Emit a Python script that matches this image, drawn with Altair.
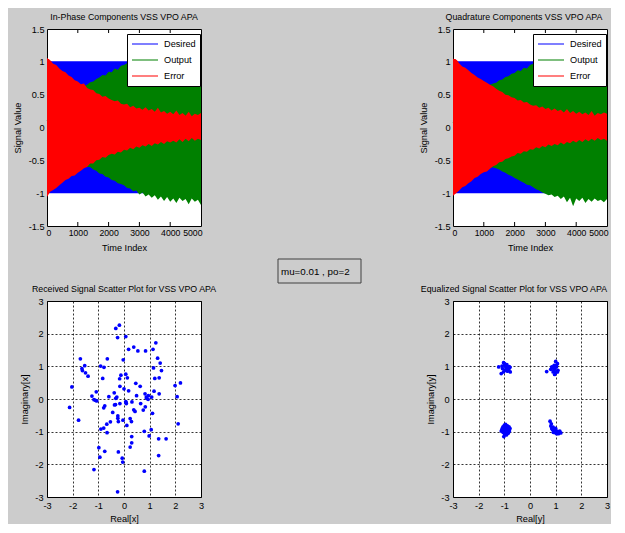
import altair as alt
import pandas as pd

FONT = "Liberation Sans Narrow, Arial Narrow, Liberation Sans, Arial, sans-serif"
BG = "#cccccc"
FS = 9.2
TFS = 8.8

# ---------------- data ----------------
time_index = [0, 100, 200, 300, 400, 500, 600, 700, 800, 900,
              1000, 1100, 1200, 1300, 1400, 1500, 1600, 1700, 1800, 1900,
              2000, 2100, 2200, 2300, 2400, 2500, 2600, 2700, 2800, 2900,
              3000, 3100, 3200, 3300, 3400, 3500, 3600, 3700, 3800, 3900,
              4000, 4100, 4200, 4300, 4400, 4500, 4600, 4700, 4800, 4900, 5000]

series_names = ["Desired", "Output", "Error"]
series_colors = ["#0000ff", "#008000", "#ff0000"]

desired_t = [0, 5000]
desired_hi = [1.0, 1.0]
desired_lo = [-1.0, -1.0]

# In-phase envelopes
err_hi_I = [1.05, 1.02, 0.97, 0.95, 0.90, 0.86, 0.84, 0.79, 0.77, 0.72, 0.70, 0.66, 0.67, 0.60, 0.58, 0.57, 0.52,
            0.51, 0.47, 0.48, 0.44, 0.42, 0.40, 0.41, 0.36, 0.35, 0.36, 0.31, 0.33, 0.29, 0.30, 0.27, 0.31, 0.26,
            0.28, 0.24, 0.30, 0.23, 0.25, 0.21, 0.24, 0.20, 0.26, 0.19, 0.22, 0.18, 0.24, 0.17, 0.21, 0.19, 0.22]
err_lo_I = [-1.06, -0.98, -0.95, -0.92, -0.88, -0.84, -0.80, -0.78, -0.74, -0.73, -0.69, -0.66, -0.62, -0.60, -0.55,
            -0.55, -0.50, -0.49, -0.45, -0.46, -0.42, -0.40, -0.41, -0.37, -0.38, -0.34, -0.35, -0.31, -0.33, -0.29,
            -0.31, -0.27, -0.29, -0.25, -0.28, -0.24, -0.26, -0.22, -0.25, -0.21, -0.23, -0.20, -0.23, -0.18, -0.22,
            -0.17, -0.21, -0.16, -0.20, -0.17, -0.19]
out_hi_I = [0.10, 0.16, 0.23, 0.29, 0.35, 0.40, 0.45, 0.49, 0.53, 0.57, 0.60, 0.62, 0.63, 0.65, 0.69, 0.70, 0.74,
            0.76, 0.80, 0.79, 0.85, 0.84, 0.90, 0.88, 0.94, 0.95, 0.98, 1.00, 0.99, 1.03, 1.01, 1.05, 1.02, 1.06,
            1.04, 1.08, 1.05, 1.09, 1.06, 1.10, 1.08, 1.11, 1.07, 1.12, 1.09, 1.13, 1.10, 1.14, 1.10, 1.15, 1.12]
out_lo_I = [-0.10, -0.16, -0.23, -0.29, -0.35, -0.40, -0.45, -0.49, -0.52, -0.54, -0.56, -0.58, -0.60, -0.60, -0.60,
            -0.64, -0.66, -0.70, -0.71, -0.75, -0.76, -0.80, -0.81, -0.85, -0.86, -0.88, -0.92, -0.93, -0.97, -0.96,
            -1.02, -0.99, -1.05, -1.02, -1.07, -1.03, -1.10, -1.05, -1.12, -1.06, -1.13, -1.08, -1.15, -1.07, -1.12,
            -1.09, -1.17, -1.08, -1.13, -1.10, -1.18]

# Quadrature envelopes
err_hi_Q = [1.04, 1.03, 0.98, 0.93, 0.91, 0.87, 0.83, 0.80, 0.76, 0.74, 0.71, 0.68, 0.65, 0.63, 0.59, 0.56, 0.54,
            0.50, 0.49, 0.46, 0.45, 0.41, 0.42, 0.38, 0.39, 0.35, 0.33, 0.34, 0.30, 0.32, 0.28, 0.30, 0.26, 0.29,
            0.25, 0.27, 0.23, 0.28, 0.22, 0.25, 0.21, 0.24, 0.20, 0.23, 0.19, 0.25, 0.18, 0.22, 0.20, 0.23, 0.21]
err_lo_Q = [-1.04, -1.00, -0.96, -0.91, -0.89, -0.85, -0.82, -0.77, -0.75, -0.71, -0.68, -0.67, -0.63, -0.59, -0.57,
            -0.53, -0.52, -0.48, -0.47, -0.44, -0.43, -0.39, -0.40, -0.36, -0.37, -0.33, -0.34, -0.30, -0.32, -0.28,
            -0.30, -0.26, -0.28, -0.25, -0.27, -0.23, -0.26, -0.22, -0.24, -0.20, -0.23, -0.19, -0.22, -0.18, -0.21,
            -0.17, -0.20, -0.16, -0.19, -0.17, -0.20]
out_hi_Q = [0.08, 0.15, 0.22, 0.28, 0.34, 0.40, 0.45, 0.50, 0.54, 0.58, 0.61, 0.63, 0.65, 0.67, 0.68, 0.72, 0.73,
            0.77, 0.78, 0.82, 0.83, 0.87, 0.86, 0.91, 0.90, 0.95, 0.97, 1.00, 0.98, 1.02, 1.00, 1.04, 1.01, 1.06,
            1.03, 1.07, 1.04, 1.08, 1.05, 1.09, 1.07, 1.10, 1.06, 1.11, 1.08, 1.12, 1.09, 1.13, 1.10, 1.14, 1.12]
out_lo_Q = [-0.08, -0.15, -0.22, -0.28, -0.34, -0.40, -0.45, -0.50, -0.53, -0.56, -0.58, -0.59, -0.60, -0.61, -0.62,
            -0.64, -0.67, -0.69, -0.72, -0.74, -0.77, -0.79, -0.82, -0.84, -0.87, -0.88, -0.91, -0.94, -0.96, -0.99,
            -1.01, -1.03, -1.02, -1.06, -1.04, -1.09, -1.05, -1.14, -1.07, -1.20, -1.08, -1.12, -1.07, -1.15, -1.09,
            -1.13, -1.08, -1.12, -1.10, -1.14, -1.09]

# Received signal (before equalization)
recv_re = [-0.32, -0.18, -0.25, 0.07, 0.18, 0.38, 0.54, 0.84, 1.13, 1.24,
           1.31, 1.41, 1.46, 1.15, 1.20, 1.37, -0.03, -0.65, -0.91, -0.78,
           -0.83, -1.70, -1.64, -1.53, -1.62, -1.50, -1.40, -2.03, -2.12, -1.77,
           -1.25, -1.08, -1.17, -1.11, -1.06, -0.59, -0.38, -0.32, -0.16, -0.12,
           -0.17, 0.07, 0.13, 0.00, 0.18, 0.46, 0.63, 0.49, 0.82, 0.87,
           0.94, 1.08, 1.17, 1.37, 1.99, 2.20, 2.07, 2.11, 1.11, 1.35,
           1.64, 1.35, 0.79, 1.06, 0.98, 0.79, 0.30, 0.30, 0.24, -0.25,
           -0.07, -0.05, -0.22, -1.17, -0.94, -0.98, -0.75, -0.90, -0.79, -0.66,
           -0.67, -0.53, -0.44, -0.79, -0.75, -0.33, -0.37, -0.24, -0.24, -0.22,
           -0.04, 0.08, 0.09, 0.38, 0.43, 0.29, 0.75, 0.65, -0.16, 0.07,
           -0.28, 0.31, 0.83, 0.24, 0.11, 0.95, 0.88]
recv_im = [2.16, 2.26, 1.88, 1.91, 1.52, 1.59, 1.47, 1.47, 1.52, 1.72,
           1.25, 1.10, 0.87, 0.95, 0.63, 0.65, 1.20, 1.23, 1.01, 0.97,
           0.63, 1.23, 0.93, 1.02, 0.87, 0.80, 0.70, 0.37, -0.26, -0.65,
           0.09, 0.22, -0.02, -0.04, -0.06, 0.07, 0.19, 0.02, 0.39, 0.73,
           0.62, 0.76, 0.65, 0.31, 0.25, 0.48, 0.39, 0.10, 0.16, 0.06,
           -0.01, 0.06, 0.24, 0.16, 0.41, 0.49, 0.07, -0.76, -0.44, -1.22,
           -1.22, -1.73, -0.99, -0.94, -1.13, -2.21, -1.15, -1.34, -1.47, -2.84,
           -1.81, -1.93, -1.62, -2.16, -1.78, -1.49, -1.60, -0.92, -0.89, -1.03,
           -0.77, -0.70, -0.41, -0.27, -0.21, -0.17, -0.18, -0.52, -0.59, -0.69,
           -0.65, -0.11, -0.14, -0.33, -0.38, -0.69, -0.34, -0.14, -0.14, -0.08,
           0.06, -0.09, -0.24, -0.60, -0.81, 0.10, 0.02]

# Equalized signal
eq_re = [-1.22, -1.12, -1.03, -0.99, -0.94, -0.90, -1.07, -0.86, -0.81, -0.77, -0.96, -0.88, -1.03, -0.83, -0.99,
         -0.92, -0.78, -1.09,
         0.65, 1.00, 1.07, 0.94, 0.87, 0.97, 1.03, 0.81, 0.90, 1.00, 1.09, 0.94, 0.85, 1.02, 0.96, 1.07,
         -1.05, -1.00, -0.95, -0.88, -0.82, -0.78, -0.80, -0.85, -0.92, -0.98, -1.05, -1.10, -1.08, -0.97, -0.90,
         -0.93, -1.00, -0.87, -1.02, -0.95, -0.90, -1.03, -0.85, -0.96, -1.12, -0.98,
         0.78, 0.83, 0.81, 0.90, 0.94, 1.00, 1.07, 1.13, 1.20, 0.98, 1.04, 0.87, 1.11, 0.96, 1.16, 1.00, 0.91, 0.85]
eq_im = [0.98, 0.78, 1.11, 1.03, 0.98, 1.05, 0.93, 0.95, 0.99, 0.83, 0.88, 0.85, 0.83, 0.91, 1.08,
         0.93, 0.97, 1.01,
         0.84, 1.15, 1.08, 1.03, 0.95, 0.93, 0.98, 0.91, 0.83, 0.81, 0.88, 0.88, 0.98, 1.03, 0.75, 0.83,
         -0.85, -0.80, -0.78, -0.82, -0.85, -0.90, -0.98, -1.05, -1.10, -1.08, -1.02, -0.95, -0.90, -0.92, -0.95,
         -1.00, -0.98, -0.90, -1.15, -0.88, -1.03, -0.93, -0.95, -1.04, -0.98, -0.85,
         -0.68, -0.76, -0.83, -0.86, -0.93, -0.96, -0.99, -1.01, -1.04, -1.03, -1.06, -0.93, -1.06, -1.00, -0.98,
         -0.90, -1.02, -0.90]

time_ticks = [1000, 2000, 3000, 4000]
time_axis_values = [0, 1000, 2000, 3000, 4000, 5000]
signal_axis_values = [-1.5, -1.0, -0.5, 0.0, 0.5, 1.0, 1.5]
iq_axis_values = [-3, -2, -1, 0, 1, 2, 3]
box_text = ["mu=0.01 , po=2"]

LABEL_EXPR = "datum.value < 0 ? '-' + format(-datum.value, '') : format(datum.value, '')"

TOP_W, TOP_H = 154, 197
BOT_W, BOT_H = 154, 196


def signal_panel(title, err_hi, err_lo, out_hi, out_lo, with_box=False, title_dx=0):
    df_des = pd.DataFrame({"t": desired_t, "hi": desired_hi, "lo": desired_lo})
    df_out = pd.DataFrame({"t": time_index, "hi": out_hi, "lo": out_lo})
    df_err = pd.DataFrame({"t": time_index, "hi": err_hi, "lo": err_lo})
    df_leg = pd.concat([df_des.assign(series="Desired"),
                        df_out.assign(series="Output"),
                        df_err.assign(series="Error")], ignore_index=True)
    xs = alt.Scale(domain=[0, 5000], nice=False, zero=False)
    ys = alt.Scale(domain=[-1.5, 1.5], nice=False, zero=False)
    xax = alt.Axis(values=time_axis_values, tickCount=len(time_axis_values), title="Time Index",
                   grid=False, ticks=False, domain=False, labelPadding=2, titlePadding=7,
                   labelFontSize=8.7, labelExpr=LABEL_EXPR, labelFlush=True, labelFlushOffset=1,
                   labelOverlap=False)
    yax = alt.Axis(values=signal_axis_values, tickCount=len(signal_axis_values), title="Signal Value",
                   grid=False, ticks=False, domain=False, labelPadding=3, titlePadding=6,
                   labelExpr=LABEL_EXPR, labelOverlap=False, labelFlush=False)

    leg_lines = alt.Chart(df_leg).mark_line(strokeWidth=1).encode(
        x=alt.X("t:Q", scale=xs, axis=xax),
        y=alt.Y("hi:Q", scale=ys, axis=yax),
        stroke=alt.Stroke("series:N",
                          scale=alt.Scale(domain=series_names, range=series_colors),
                          sort=series_names,
                          legend=alt.Legend(title=None, orient="none", legendX=80, legendY=5,
                                            fillColor="white", strokeColor="black", padding=4,
                                            symbolType="stroke", symbolSize=676, symbolStrokeWidth=1.2,
                                            clipHeight=12, labelFontSize=FS, labelOffset=5, rowPadding=4)),
    )
    ticks_top = alt.Chart(pd.DataFrame({"v": time_ticks})).mark_rule(color="black", strokeWidth=1).encode(
        x="v:Q", y=alt.value(0), y2=alt.value(4))
    ticks_bot = alt.Chart(pd.DataFrame({"v": time_ticks})).mark_rule(color="black", strokeWidth=1).encode(
        x="v:Q", y=alt.value(TOP_H - 4), y2=alt.value(TOP_H))
    blue = alt.Chart(df_des).mark_area(color=series_colors[0], opacity=1).encode(x="t:Q", y="hi:Q", y2="lo:Q")
    green = alt.Chart(df_out).mark_area(color=series_colors[1], opacity=1).encode(x="t:Q", y="hi:Q", y2="lo:Q")
    red = alt.Chart(df_err).mark_area(color=series_colors[2], opacity=1).encode(x="t:Q", y="hi:Q", y2="lo:Q")
    layers = [leg_lines, ticks_top, ticks_bot, blue, green, red]
    if with_box:
        df_box = pd.DataFrame({"label": box_text})
        rect = alt.Chart(df_box).mark_rect(fill=BG, stroke="#404040", strokeWidth=1).encode(
            x=alt.value(231), x2=alt.value(314), y=alt.value(230), y2=alt.value(254))
        txt = alt.Chart(df_box).mark_text(align="left", baseline="middle", font=FONT, fontSize=FS + 0.6,
                                          color="black").encode(
            x=alt.value(234), y=alt.value(243), text="label:N")
        layers += [rect, txt]
    return alt.layer(*layers).properties(
        width=TOP_W, height=TOP_H,
        title=alt.TitleParams(title, fontSize=TFS, font=FONT, fontWeight="normal", offset=3, dx=title_dx))


def scatter_panel(title, re, im, xt, yt, anchor="middle"):
    df = pd.DataFrame({"re": re, "im": im})
    common = dict(values=iq_axis_values, tickCount=len(iq_axis_values), grid=True, gridDash=[2, 2],
                  gridColor="black", gridOpacity=1, gridWidth=0.8, ticks=False, domain=False,
                  labelExpr=LABEL_EXPR, labelOverlap=False)
    return alt.Chart(df).mark_point(filled=True, size=14, color="#0000ff", opacity=1).encode(
        x=alt.X("re:Q", scale=alt.Scale(domain=[-3, 3], nice=False),
                axis=alt.Axis(title=xt, labelPadding=4, titlePadding=4, labelFlush=False, **common)),
        y=alt.Y("im:Q", scale=alt.Scale(domain=[-3, 3], nice=False),
                axis=alt.Axis(title=yt, labelPadding=4, titlePadding=5, labelFlush=False, **common)),
    ).properties(width=BOT_W, height=BOT_H,
                 title=alt.TitleParams(title, fontSize=TFS, font=FONT, fontWeight="normal", offset=3,
                                       anchor=anchor, frame="group"))


tl = signal_panel("In-Phase Components VSS VPO APA", err_hi_I, err_lo_I, out_hi_I, out_lo_I, with_box=True)
tr = signal_panel("Quadrature Components VSS VPO APA", err_hi_Q, err_lo_Q, out_hi_Q, out_lo_Q, title_dx=-6)
bl = scatter_panel("Received Signal Scatter Plot for VSS VPO APA", recv_re, recv_im, "Real[x]", "Imaginary[x]")
br = scatter_panel("Equalized Signal Scatter Plot for VSS VPO APA", eq_re, eq_im, "Real[y]", "Imaginary[y]",
                   anchor="end")

chart = alt.concat(
    tl, tr, bl, br, columns=2, bounds="flush",
    spacing=alt.RowColnumber(row=75, column=252),
).resolve_scale(stroke="independent").resolve_legend(stroke="independent").properties(
    background=BG,
    padding={"left": 4, "top": 4, "right": 0, "bottom": 0},
).configure_view(
    fill="white", stroke="black", strokeWidth=1
).configure_axis(
    labelFont=FONT, titleFont=FONT, labelFontSize=FS, titleFontSize=FS,
    labelColor="black", titleColor="black", titleFontWeight="normal"
).configure_legend(
    labelFont=FONT, labelColor="black"
).configure_title(
    font=FONT, color="black", fontWeight="normal"
)

chart.save("out.html", embed_options={"renderer": "svg", "actions": False})
